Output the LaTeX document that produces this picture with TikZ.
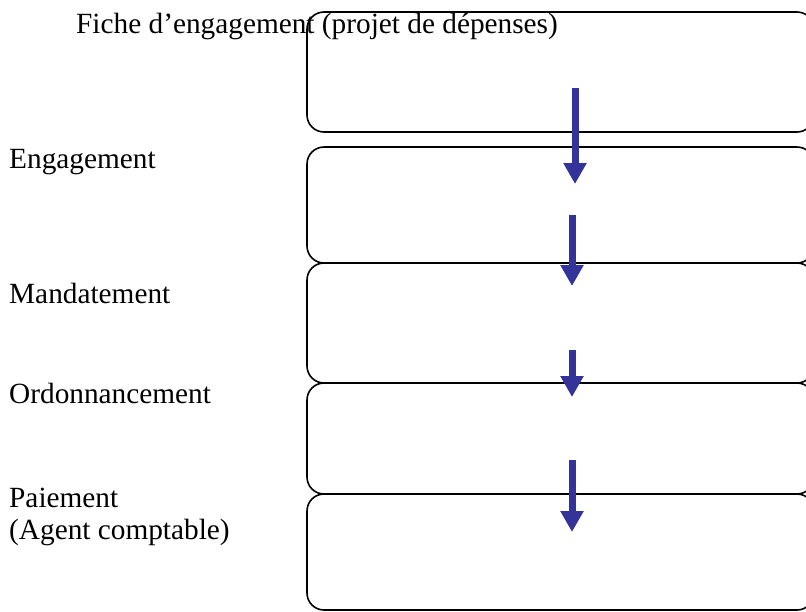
\documentclass[tikz,border=0pt]{standalone}
\usepackage{fontspec}
\setmainfont{Liberation Serif}
\usetikzlibrary{arrows.meta}
\begin{document}
\begin{tikzpicture}[x=1pt,y=-1pt,
  stage/.style={draw,line width=1.6pt,rounded corners=17pt,minimum width=507pt,inner sep=0pt},
  flow/.style={color=kBlue,line width=7pt,-{Triangle[width=22pt,length=21pt]}},
  stagename/.style={anchor=base west,inner sep=0pt,align=left,font=\fontsize{29.3}{32}\selectfont}]
  % colors
  \definecolor{kBlue}{rgb}{0.2,0.2,0.6}
  % frame
  \useasboundingbox (0,0) rectangle (806,611);
  % boxes
  \foreach \i/\y/\h in {1/72/120,2/205/116,3/323/120,4/438.5/111,5/552/116} {
    \node[stage,minimum height=\h pt] (box\i) at (560.5,\y) {};
  };
  % labels
  \node[stagename] (fiche) at (76,33) {Fiche d’engagement (projet de dépenses)};
  \node[stagename] (engag) at (9,168) {Engagement};
  \node[stagename] (mandat) at (9,303) {Mandatement};
  \node[stagename] (ordon) at (9,403) {Ordonnancement};
  \node[stagename] (paie) at (9,539) {Paiement\\(Agent comptable)};
  % arrows
  \foreach \i/\x/\ya/\yb in {1/575/88/184,2/572/215/286,3/572/350/397,4/572/460/532} {
    \coordinate (from\i) at (\x,\ya);
    \coordinate (to\i) at (\x,\yb);
    \draw[flow] (from\i) -- (to\i);
  };
\end{tikzpicture}
\end{document}
